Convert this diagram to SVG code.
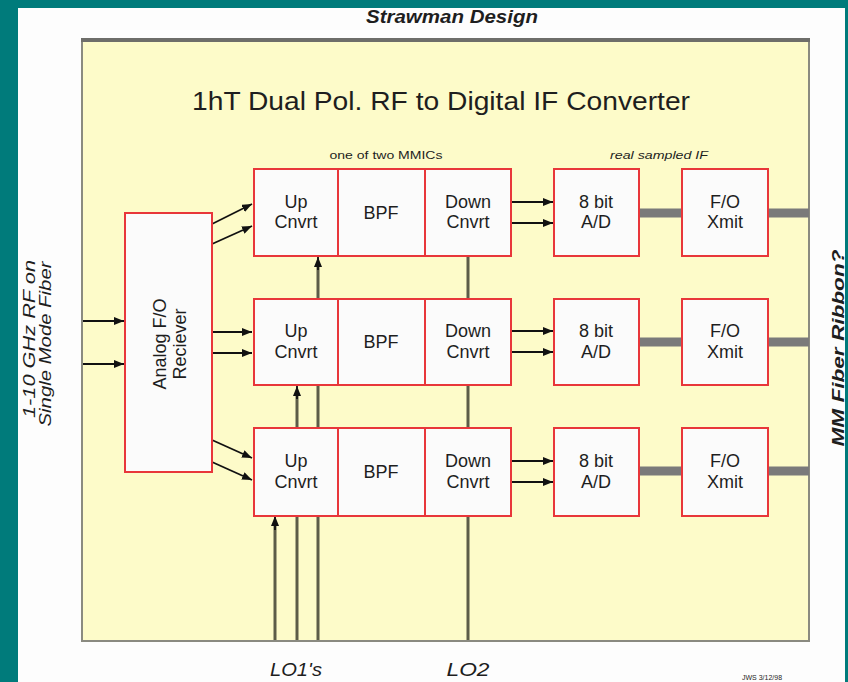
<svg xmlns="http://www.w3.org/2000/svg" width="848" height="682" viewBox="0 0 848 682">
  <style>
    .lbl { font-family: "Liberation Sans", Arial, sans-serif; fill: #1e1e1e; text-anchor: middle; }
    .box { fill: #fbfbfb; stroke: #e8363a; stroke-width: 2; }
    .sep { stroke: #e8363a; stroke-width: 2; }
    .sig { stroke: #111; stroke-width: 1.8; fill: none; marker-end: url(#arr); }
    .lo { stroke: #5c5c48; stroke-width: 3; fill: none; }
    .bus { stroke: #7a7a7a; stroke-width: 9; }
  </style>
  <defs>
    <marker id="arr" viewBox="0 0 10 8" refX="10" refY="4" markerWidth="10" markerHeight="8" markerUnits="userSpaceOnUse" orient="auto">
      <path d="M0,0 L10,4 L0,8 Z" fill="#111"/>
    </marker>
  </defs>

  <!-- page background -->
  <rect x="0" y="0" width="848" height="682" fill="#007b7b"/>
  <rect x="18" y="8" width="827" height="674" fill="#fdfdfd"/>

  <text class="lbl" x="452" y="23" font-size="18" font-weight="bold" font-style="italic" textLength="172" lengthAdjust="spacingAndGlyphs">Strawman Design</text>

  <!-- converter panel -->
  <rect x="82" y="40" width="727" height="601" fill="#fdfbc9" stroke="#8a8a80" stroke-width="2"/>
  <line x1="81" y1="40" x2="810" y2="40" stroke="#6e6e6a" stroke-width="4"/>

  <text class="lbl" x="441" y="110" font-size="26" textLength="498" lengthAdjust="spacingAndGlyphs">1hT Dual Pol. RF to Digital IF Converter</text>
  <text class="lbl" x="386" y="159" font-size="10" textLength="113" lengthAdjust="spacingAndGlyphs" fill="#444">one of two MMICs</text>
  <text class="lbl" x="659" y="159" font-size="10" font-style="italic" textLength="98" lengthAdjust="spacingAndGlyphs" fill="#444">real sampled IF</text>

  <!-- connectors -->
  <g id="connectors">
    <!-- LO1 and LO2 feeds -->
    <line class="lo" x1="275" y1="640" x2="275" y2="526"/>
    <line class="lo" x1="297" y1="640" x2="297" y2="395"/>
    <line class="lo" x1="318" y1="640" x2="318" y2="266"/>
    <line class="lo" x1="468" y1="640" x2="468" y2="256"/>
    <line class="sig" x1="275" y1="530" x2="275" y2="516"/>
    <line class="sig" x1="297" y1="399" x2="297" y2="386"/>
    <line class="sig" x1="318" y1="270" x2="318" y2="257"/>

    <!-- fiber inputs -->
    <line class="sig" x1="83" y1="321" x2="124" y2="321"/>
    <line class="sig" x1="83" y1="364" x2="124" y2="364"/>

    <!-- receiver to up-converters -->
    <line class="sig" x1="212" y1="224" x2="252" y2="204"/>
    <line class="sig" x1="212" y1="244" x2="252" y2="226"/>
    <line class="sig" x1="212" y1="332" x2="252" y2="332"/>
    <line class="sig" x1="212" y1="353" x2="252" y2="353"/>
    <line class="sig" x1="212" y1="440" x2="252" y2="458"/>
    <line class="sig" x1="212" y1="462" x2="252" y2="480"/>

    <!-- down-converters to A/D -->
    <line class="sig" x1="511" y1="202" x2="553" y2="202"/>
    <line class="sig" x1="511" y1="223" x2="553" y2="223"/>
    <line class="sig" x1="511" y1="331" x2="553" y2="331"/>
    <line class="sig" x1="511" y1="352" x2="553" y2="352"/>
    <line class="sig" x1="511" y1="461" x2="553" y2="461"/>
    <line class="sig" x1="511" y1="482" x2="553" y2="482"/>

    <!-- digital fiber buses -->
    <line class="bus" x1="639" y1="213" x2="682" y2="213"/>
    <line class="bus" x1="768" y1="213" x2="809" y2="213"/>
    <line class="bus" x1="639" y1="342" x2="682" y2="342"/>
    <line class="bus" x1="768" y1="342" x2="809" y2="342"/>
    <line class="bus" x1="639" y1="471" x2="682" y2="471"/>
    <line class="bus" x1="768" y1="471" x2="809" y2="471"/>
  </g>

  <!-- analog receiver -->
  <g id="receiver">
    <rect class="box" x="125" y="213" width="87" height="259"/>
    <text class="lbl" font-size="18" transform="translate(166,344) rotate(-90)">Analog F/O</text>
    <text class="lbl" font-size="18" transform="translate(186,344) rotate(-90)">Reciever</text>
  </g>

  <!-- MMIC row 1 -->
  <g id="mmic1">
    <rect class="box" x="254" y="169" width="257" height="87"/>
    <line class="sep" x1="338" y1="169" x2="338" y2="256"/>
    <line class="sep" x1="425" y1="169" x2="425" y2="256"/>
    <text class="lbl" x="296" y="208" font-size="18">Up</text>
    <text class="lbl" x="296" y="228" font-size="18">Cnvrt</text>
    <text class="lbl" x="381" y="219" font-size="18">BPF</text>
    <text class="lbl" x="468" y="208" font-size="18">Down</text>
    <text class="lbl" x="468" y="228" font-size="18">Cnvrt</text>
  </g>
  <g id="adc1">
    <rect class="box" x="554" y="169" width="85" height="87"/>
    <text class="lbl" x="596" y="208" font-size="18">8 bit</text>
    <text class="lbl" x="596" y="228" font-size="18">A/D</text>
  </g>
  <g id="xmit1">
    <rect class="box" x="682" y="169" width="86" height="87"/>
    <text class="lbl" x="725" y="208" font-size="18">F/O</text>
    <text class="lbl" x="725" y="228" font-size="18">Xmit</text>
  </g>

  <!-- MMIC row 2 -->
  <g id="mmic2">
    <rect class="box" x="254" y="299" width="257" height="86"/>
    <line class="sep" x1="338" y1="299" x2="338" y2="385"/>
    <line class="sep" x1="425" y1="299" x2="425" y2="385"/>
    <text class="lbl" x="296" y="337" font-size="18">Up</text>
    <text class="lbl" x="296" y="358" font-size="18">Cnvrt</text>
    <text class="lbl" x="381" y="348" font-size="18">BPF</text>
    <text class="lbl" x="468" y="337" font-size="18">Down</text>
    <text class="lbl" x="468" y="358" font-size="18">Cnvrt</text>
  </g>
  <g id="adc2">
    <rect class="box" x="554" y="299" width="85" height="86"/>
    <text class="lbl" x="596" y="337" font-size="18">8 bit</text>
    <text class="lbl" x="596" y="358" font-size="18">A/D</text>
  </g>
  <g id="xmit2">
    <rect class="box" x="682" y="299" width="86" height="86"/>
    <text class="lbl" x="725" y="337" font-size="18">F/O</text>
    <text class="lbl" x="725" y="358" font-size="18">Xmit</text>
  </g>

  <!-- MMIC row 3 -->
  <g id="mmic3">
    <rect class="box" x="254" y="428" width="257" height="88"/>
    <line class="sep" x1="338" y1="428" x2="338" y2="516"/>
    <line class="sep" x1="425" y1="428" x2="425" y2="516"/>
    <text class="lbl" x="296" y="467" font-size="18">Up</text>
    <text class="lbl" x="296" y="488" font-size="18">Cnvrt</text>
    <text class="lbl" x="381" y="478" font-size="18">BPF</text>
    <text class="lbl" x="468" y="467" font-size="18">Down</text>
    <text class="lbl" x="468" y="488" font-size="18">Cnvrt</text>
  </g>
  <g id="adc3">
    <rect class="box" x="554" y="428" width="85" height="88"/>
    <text class="lbl" x="596" y="467" font-size="18">8 bit</text>
    <text class="lbl" x="596" y="488" font-size="18">A/D</text>
  </g>
  <g id="xmit3">
    <rect class="box" x="682" y="428" width="86" height="88"/>
    <text class="lbl" x="725" y="467" font-size="18">F/O</text>
    <text class="lbl" x="725" y="488" font-size="18">Xmit</text>
  </g>

  <!-- outside labels -->
  <text class="lbl" font-size="17" font-style="italic" textLength="158" lengthAdjust="spacingAndGlyphs" transform="translate(35,339) rotate(-90)">1-10 GHz RF on</text>
  <text class="lbl" font-size="17" font-style="italic" textLength="165" lengthAdjust="spacingAndGlyphs" transform="translate(51,344) rotate(-90)">Single Mode Fiber</text>
  <text class="lbl" font-size="17" font-weight="bold" font-style="italic" textLength="197" lengthAdjust="spacingAndGlyphs" transform="translate(844,348) rotate(-90)">MM Fiber Ribbon?</text>

  <text class="lbl" x="296" y="676" font-size="18" font-style="italic" textLength="52" lengthAdjust="spacingAndGlyphs">LO1's</text>
  <text class="lbl" x="468" y="676" font-size="18" font-style="italic" textLength="43" lengthAdjust="spacingAndGlyphs">LO2</text>
  <text class="lbl" x="762" y="680" font-size="7" fill="#555">JWS 3/12/98</text>
</svg>
